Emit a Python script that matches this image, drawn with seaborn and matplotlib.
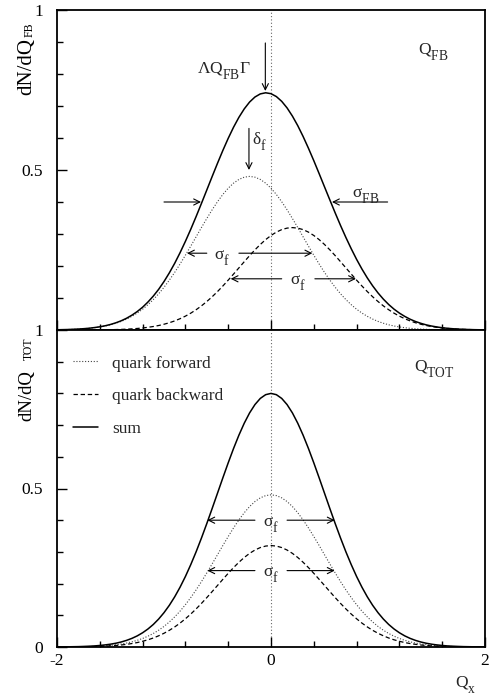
import matplotlib
matplotlib.use("Agg")
import matplotlib.pyplot as plt
import matplotlib._mathtext as _mt
import seaborn as sns
import pandas as pd
from matplotlib.ticker import MultipleLocator, FixedLocator

# ---------------- data ----------------
qx = [-2.00, -1.95, -1.90, -1.85, -1.80, -1.75, -1.70, -1.65, -1.60, -1.55,
      -1.50, -1.45, -1.40, -1.35, -1.30, -1.25, -1.20, -1.15, -1.10, -1.05,
      -1.00, -0.95, -0.90, -0.85, -0.80, -0.75, -0.70, -0.65, -0.60, -0.55,
      -0.50, -0.45, -0.40, -0.35, -0.30, -0.25, -0.20, -0.15, -0.10, -0.05,
      0.00, 0.05, 0.10, 0.15, 0.20, 0.25, 0.30, 0.35, 0.40, 0.45,
      0.50, 0.55, 0.60, 0.65, 0.70, 0.75, 0.80, 0.85, 0.90, 0.95,
      1.00, 1.05, 1.10, 1.15, 1.20, 1.25, 1.30, 1.35, 1.40, 1.45,
      1.50, 1.55, 1.60, 1.65, 1.70, 1.75, 1.80, 1.85, 1.90, 1.95, 2.00]

# upper panel (Q_FB)
fb_forward = [0.0007, 0.0011, 0.0015, 0.0021, 0.0029, 0.0039, 0.0053, 0.0072, 0.0095, 0.0125,
              0.0163, 0.0211, 0.0269, 0.0341, 0.0427, 0.0529, 0.0649, 0.0790, 0.0950, 0.1131,
              0.1334, 0.1559, 0.1801, 0.2062, 0.2337, 0.2621, 0.2911, 0.3202, 0.3485, 0.3757,
              0.4009, 0.4236, 0.4431, 0.4589, 0.4705, 0.4776, 0.4800, 0.4776, 0.4705, 0.4589,
              0.4431, 0.4236, 0.4009, 0.3757, 0.3485, 0.3202, 0.2911, 0.2621, 0.2337, 0.2062,
              0.1801, 0.1559, 0.1334, 0.1131, 0.0950, 0.0790, 0.0649, 0.0529, 0.0427, 0.0341,
              0.0269, 0.0211, 0.0163, 0.0125, 0.0095, 0.0072, 0.0053, 0.0039, 0.0029, 0.0021,
              0.0015, 0.0011, 0.0007, 0.0005, 0.0003, 0.0002, 0.0002, 0.0001, 0.0000, 0.0000, 0.0000]
fb_backward = [0.0000, 0.0000, 0.0000, 0.0001, 0.0001, 0.0002, 0.0002, 0.0004, 0.0005, 0.0007,
               0.0010, 0.0014, 0.0019, 0.0026, 0.0036, 0.0048, 0.0063, 0.0084, 0.0109, 0.0140,
               0.0180, 0.0227, 0.0284, 0.0353, 0.0433, 0.0526, 0.0633, 0.0754, 0.0890, 0.1039,
               0.1201, 0.1375, 0.1558, 0.1748, 0.1941, 0.2134, 0.2324, 0.2505, 0.2673, 0.2824,
               0.2954, 0.3059, 0.3137, 0.3184, 0.3200, 0.3184, 0.3137, 0.3059, 0.2954, 0.2824,
               0.2673, 0.2505, 0.2324, 0.2134, 0.1941, 0.1748, 0.1558, 0.1375, 0.1201, 0.1039,
               0.0890, 0.0754, 0.0633, 0.0526, 0.0433, 0.0353, 0.0284, 0.0227, 0.0180, 0.0140,
               0.0109, 0.0084, 0.0063, 0.0048, 0.0036, 0.0026, 0.0019, 0.0014, 0.0010, 0.0007, 0.0005]
fb_sum = [0.0007, 0.0011, 0.0015, 0.0022, 0.0030, 0.0041, 0.0055, 0.0076, 0.0100, 0.0132,
          0.0173, 0.0225, 0.0288, 0.0367, 0.0463, 0.0577, 0.0712, 0.0874, 0.1059, 0.1271,
          0.1514, 0.1786, 0.2085, 0.2415, 0.2770, 0.3147, 0.3544, 0.3956, 0.4375, 0.4796,
          0.5210, 0.5611, 0.5989, 0.6337, 0.6646, 0.6910, 0.7124, 0.7281, 0.7378, 0.7413,
          0.7385, 0.7295, 0.7146, 0.6941, 0.6685, 0.6386, 0.6048, 0.5680, 0.5291, 0.4886,
          0.4474, 0.4064, 0.3658, 0.3265, 0.2891, 0.2538, 0.2207, 0.1904, 0.1628, 0.1380,
          0.1159, 0.0965, 0.0796, 0.0651, 0.0528, 0.0425, 0.0337, 0.0266, 0.0209, 0.0161,
          0.0124, 0.0095, 0.0070, 0.0053, 0.0039, 0.0028, 0.0021, 0.0015, 0.0010, 0.0007, 0.0005]

# lower panel (Q_TOT)
tot_forward = [0.0002, 0.0002, 0.0003, 0.0005, 0.0007, 0.0011, 0.0015, 0.0021, 0.0029, 0.0039,
               0.0053, 0.0072, 0.0095, 0.0125, 0.0163, 0.0211, 0.0269, 0.0341, 0.0427, 0.0529,
               0.0649, 0.0790, 0.0950, 0.1131, 0.1334, 0.1559, 0.1801, 0.2062, 0.2337, 0.2621,
               0.2911, 0.3202, 0.3485, 0.3757, 0.4009, 0.4236, 0.4431, 0.4589, 0.4705, 0.4776,
               0.4800,
               0.4776, 0.4705, 0.4589, 0.4431, 0.4236, 0.4009, 0.3757, 0.3485, 0.3202, 0.2911,
               0.2621, 0.2337, 0.2062, 0.1801, 0.1559, 0.1334, 0.1131, 0.0950, 0.0790, 0.0649,
               0.0529, 0.0427, 0.0341, 0.0269, 0.0211, 0.0163, 0.0125, 0.0095, 0.0072, 0.0053,
               0.0039, 0.0029, 0.0021, 0.0015, 0.0011, 0.0007, 0.0005, 0.0003, 0.0002, 0.0002]
tot_backward = [0.0001, 0.0002, 0.0002, 0.0004, 0.0005, 0.0007, 0.0010, 0.0014, 0.0019, 0.0026,
                0.0036, 0.0048, 0.0063, 0.0084, 0.0109, 0.0140, 0.0180, 0.0227, 0.0284, 0.0353,
                0.0433, 0.0526, 0.0633, 0.0754, 0.0890, 0.1039, 0.1201, 0.1375, 0.1558, 0.1748,
                0.1941, 0.2134, 0.2324, 0.2505, 0.2673, 0.2824, 0.2954, 0.3059, 0.3137, 0.3184,
                0.3200,
                0.3184, 0.3137, 0.3059, 0.2954, 0.2824, 0.2673, 0.2505, 0.2324, 0.2134, 0.1941,
                0.1748, 0.1558, 0.1375, 0.1201, 0.1039, 0.0890, 0.0754, 0.0633, 0.0526, 0.0433,
                0.0353, 0.0284, 0.0227, 0.0180, 0.0140, 0.0109, 0.0084, 0.0063, 0.0048, 0.0036,
                0.0026, 0.0019, 0.0014, 0.0010, 0.0007, 0.0005, 0.0004, 0.0002, 0.0002, 0.0001]
tot_sum = [0.0003, 0.0004, 0.0006, 0.0009, 0.0012, 0.0018, 0.0025, 0.0034, 0.0048, 0.0066,
           0.0089, 0.0119, 0.0158, 0.0209, 0.0272, 0.0351, 0.0449, 0.0568, 0.0711, 0.0882,
           0.1083, 0.1316, 0.1583, 0.1886, 0.2224, 0.2598, 0.3002, 0.3437, 0.3894, 0.4369,
           0.4852, 0.5336, 0.5809, 0.6262, 0.6682, 0.7060, 0.7385, 0.7648, 0.7842, 0.7960,
           0.8000,
           0.7960, 0.7842, 0.7648, 0.7385, 0.7060, 0.6682, 0.6262, 0.5809, 0.5336, 0.4852,
           0.4369, 0.3894, 0.3437, 0.3002, 0.2598, 0.2224, 0.1886, 0.1583, 0.1316, 0.1083,
           0.0882, 0.0711, 0.0568, 0.0449, 0.0351, 0.0272, 0.0209, 0.0158, 0.0119, 0.0089,
           0.0066, 0.0048, 0.0034, 0.0025, 0.0018, 0.0012, 0.0009, 0.0006, 0.0004, 0.0003]

series_labels = ["quark forward", "quark backward", "sum"]
x_tick_values = [-2, 0, 2]
x_tick_labels = ["-2", "0", "2"]
y_tick_values = [0, 0.5, 1]
top_y_tick_labels = ["", "0.5", "1"]
bottom_y_tick_labels = ["0", "0.5", "1"]

# ---------------- style ----------------
sns.set_theme(style="ticks")
plt.rcParams["font.family"] = ["Liberation Serif", "DejaVu Serif"]
plt.rcParams["mathtext.fontset"] = "custom"
plt.rcParams["mathtext.rm"] = "Liberation Serif"
plt.rcParams["mathtext.it"] = "Liberation Serif:italic"
plt.rcParams["mathtext.bf"] = "Liberation Serif:bold"
plt.rcParams["axes.unicode_minus"] = False
# subscripts a little larger and lower, as in the reference typesetting
_mt.SHRINK_FACTOR = 0.78
_mt.FontConstantsBase.subdrop = 0.75
_mt.FontConstantsBase.sub1 = 0.75

FS = 12.5
W, H = 491, 697
fig = plt.figure(figsize=(W / 100, H / 100), dpi=100)
fig.patch.set_facecolor("white")
ax1 = fig.add_axes([57 / W, 367 / H, 428 / W, 320 / H])
ax2 = fig.add_axes([57 / W, 50 / H, 428 / W, 317 / H])

styles = {
    "quark forward": dict(linestyle=(0, (1, 1.6)), color="#444444", linewidth=0.8),
    "quark backward": dict(linestyle=(0, (3.5, 2.2)), color="black", linewidth=0.9),
    "sum": dict(linestyle="-", color="black", linewidth=1.1),
}

def draw(ax, fwd, bwd, tot, with_label):
    for name, vals in zip(series_labels, [fwd, bwd, tot]):
        df = pd.DataFrame({"Qx": qx, "v": vals})
        sns.lineplot(data=df, x="Qx", y="v", ax=ax, label=name if with_label else None,
                     legend=False, **styles[name])
    ax.axvline(0, color="#666666", linestyle=(0, (1, 2)), linewidth=0.8, zorder=0)

draw(ax1, fb_forward, fb_backward, fb_sum, False)
draw(ax2, tot_forward, tot_backward, tot_sum, True)

for ax, ylabs in [(ax1, top_y_tick_labels), (ax2, bottom_y_tick_labels)]:
    ax.set_xlim(-2, 2)
    ax.set_ylim(0, 1)
    ax.set_facecolor("white")
    for sp in ax.spines.values():
        sp.set_visible(True)
        sp.set_linewidth(1.3)
        sp.set_color("black")
    ax.xaxis.set_major_locator(FixedLocator(x_tick_values))
    ax.xaxis.set_minor_locator(MultipleLocator(0.4))
    ax.yaxis.set_major_locator(FixedLocator(y_tick_values))
    ax.yaxis.set_minor_locator(MultipleLocator(0.1))
    ax.set_yticklabels(ylabs)
    ax.tick_params(which="both", direction="in", top=False, right=False,
                   color="black", width=1.0, labelsize=FS, labelcolor="black")
    ax.tick_params(which="major", length=7)
    ax.tick_params(which="minor", length=4)
    ax.tick_params(axis="y", pad=10)
    ax.tick_params(axis="x", pad=4)
    ax.set_xlabel("")
    ax.set_ylabel("")

ax1.set_xticklabels([])
ax2.set_xticklabels(x_tick_labels)

# rotated y-axis titles (main part + subscript), anchored at the end of each string
def vtext(xpx, ypx, s, size):
    fig.text(xpx / W, 1 - ypx / H, s, rotation=90, rotation_mode="anchor",
             ha="right", va="baseline", fontsize=size, color="black")

vtext(31, 38, "dN/dQ", 15)
vtext(33, 22, "FB", 8.5)
vtext(31, 370, "dN/dQ", 13.5)
vtext(32, 337, "TOT", 8.5)

fig.text(466 / W, 2 / H, "Q$_{\\mathrm{x}}$", fontsize=FS, ha="center", va="bottom")

ax1.text(0.843, 0.87, "Q$_{\\mathrm{FB}}$", transform=ax1.transAxes, fontsize=FS, ha="left", va="center")
ax2.text(0.834, 0.88, "Q$_{\\mathrm{TOT}}$", transform=ax2.transAxes, fontsize=FS, ha="left", va="center")

# ---------------- annotations ----------------
def arrow(ax, x0, y0, x1, y1):
    ax.annotate("", xy=(x1, y1), xytext=(x0, y0),
                arrowprops=dict(arrowstyle="->", color="black", lw=0.8,
                                shrinkA=0, shrinkB=0, mutation_scale=11))

# <Q_FB> marker
arrow(ax1, -0.053, 0.897, -0.053, 0.747)
ax1.text(-0.19, 0.81, "ΛQ$_{\\mathrm{FB}}$Γ", fontsize=FS, ha="right", va="center")
# delta_f
arrow(ax1, -0.206, 0.63, -0.206, 0.50)
ax1.text(-0.175, 0.59, "δ$_{\\mathrm{f}}$", fontsize=FS, ha="left", va="center")
# sigma_FB
arrow(ax1, -1.0, 0.40, -0.654, 0.40)
arrow(ax1, 1.09, 0.40, 0.57, 0.40)
ax1.text(0.76, 0.42, "σ$_{\\mathrm{FB}}$", fontsize=FS, ha="left", va="center")
# sigma_f forward (upper)
arrow(ax1, -0.60, 0.24, -0.785, 0.24)
arrow(ax1, -0.30, 0.24, 0.386, 0.24)
ax1.text(-0.455, 0.228, "σ$_{\\mathrm{f}}$", fontsize=FS, ha="center", va="center")
# sigma_f backward (upper)
arrow(ax1, 0.10, 0.16, -0.377, 0.16)
arrow(ax1, 0.41, 0.16, 0.794, 0.16)
ax1.text(0.255, 0.148, "σ$_{\\mathrm{f}}$", fontsize=FS, ha="center", va="center")
# lower panel sigma_f arrows
for yy in [0.40, 0.241]:
    arrow(ax2, -0.15, yy, -0.595, yy)
    arrow(ax2, 0.15, yy, 0.595, yy)
    ax2.text(0.0, yy - 0.012, "σ$_{\\mathrm{f}}$", fontsize=FS, ha="center", va="center")

leg = ax2.legend(loc="upper left", bbox_to_anchor=(0.038, 0.92), frameon=False,
                 fontsize=FS, handlelength=1.45, handletextpad=0.8,
                 labelspacing=0.95, borderpad=0, borderaxespad=0)

fig.savefig("out.png", dpi=100, facecolor="white")
